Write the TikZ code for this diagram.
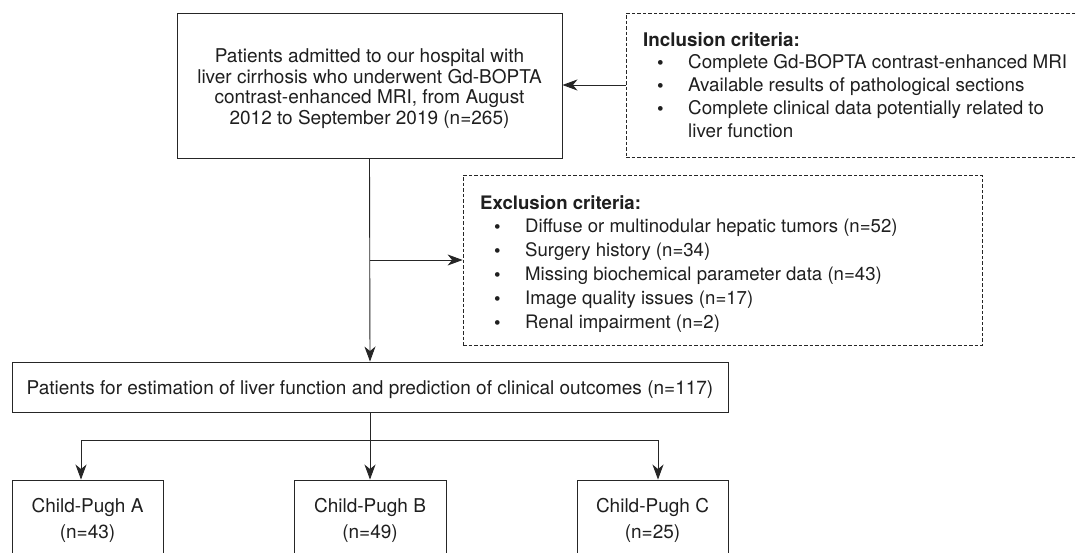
\documentclass[tikz,border=0pt]{standalone}
\usepackage{fontspec}
\setmainfont{TeX Gyre Heros}
\usetikzlibrary{arrows.meta}
\newcommand{\bitem}{\makebox[45pt][l]{\hspace{14pt}\textbf{\textbullet}}}
\begin{document}
\begin{tikzpicture}[x=1pt,y=-1pt,
  box/.style={draw=black!85, line width=0.9pt, rectangle, inner sep=0pt, align=center, text=black!88},
  dbox/.style={draw=black!85, line width=0.8pt, dash pattern=on 3.5pt off 2pt, rectangle, inner sep=0pt},
  txt/.style={inner sep=0pt, align=left, text=black!88, anchor=north west},
  arr/.style={draw=black!85, line width=0.9pt, -{Stealth[length=15pt,width=11pt,inset=4.5pt]}},
  ln/.style={draw=black!85, line width=0.9pt},
  every node/.style={font=\fontsize{19}{20.5}\selectfont}]
\useasboundingbox (0,0) rectangle (1076,552);
\clip (0,0) rectangle (1076,552);
\fill[white] (0,0) rectangle (1076,552);

\node[box, minimum width=385pt, minimum height=145pt] (top) at (369.5,85.5)
  {\rule{0pt}{20pt}Patients admitted to our hospital with\\liver cirrhosis who underwent Gd-BOPTA\\contrast-enhanced MRI, from August\\2012 to September 2019 (n=265)};

\node[dbox, minimum width=466pt, minimum height=144pt] (inc) at (859,85) {};
\node[txt, font=\fontsize{18.8}{22.7}\selectfont] (inctext) at (643,32)
  {\textbf{Inclusion criteria:}\\
   \bitem Complete Gd-BOPTA contrast-enhanced MRI\\
   \bitem Available results of pathological sections\\
   \bitem Complete clinical data potentially related to\\
   \hspace{45pt}liver function};

\node[dbox, minimum width=519pt, minimum height=170pt] (exc) at (722.5,260) {};
\node[txt, font=\fontsize{18.6}{23.8}\selectfont] (exctext) at (480,195)
  {\textbf{Exclusion criteria:}\\
   \bitem Diffuse or multinodular hepatic tumors (n=52)\\
   \bitem Surgery history (n=34)\\
   \bitem Missing biochemical parameter data (n=43)\\
   \bitem Image quality issues (n=17)\\
   \bitem Renal impairment (n=2)};

\node[box, minimum width=716pt, minimum height=50pt] (mid) at (370,387)
  {\rule{0pt}{20pt}Patients for estimation of liver function and prediction of clinical outcomes (n=117)};

\node[box, minimum width=151pt, minimum height=78pt, font=\fontsize{19}{26}\selectfont] (A) at (87.5,519) {\rule{0pt}{18pt}Child-Pugh A\\(n=43)};
\node[box, minimum width=152pt, minimum height=78pt, font=\fontsize{19}{26}\selectfont] (B) at (370,519) {\rule{0pt}{18pt}Child-Pugh B\\(n=49)};
\node[box, minimum width=151pt, minimum height=78pt, font=\fontsize{19}{26}\selectfont] (C) at (652.5,519) {\rule{0pt}{18pt}Child-Pugh C\\(n=25)};

% inclusion arrow
\draw[arr] (inc.west) -- (inc.west -| top.east);
% main flow
\coordinate (br) at (370,260);
\draw[arr] (top.south) -- (mid.north);
\draw[arr] (br) -- (br -| exc.west);
% split
\coordinate (jA) at (81,440);
\coordinate (jC) at (658,440);
\draw[ln] (mid.south) -- (mid.south |- jA);
\draw[ln] (jA) -- (jC);
\draw[arr] (jA) -- (jA |- A.north);
\draw[arr] (mid.south) -- (B.north);
\draw[arr] (jC) -- (jC |- C.north);
\end{tikzpicture}
\end{document}
